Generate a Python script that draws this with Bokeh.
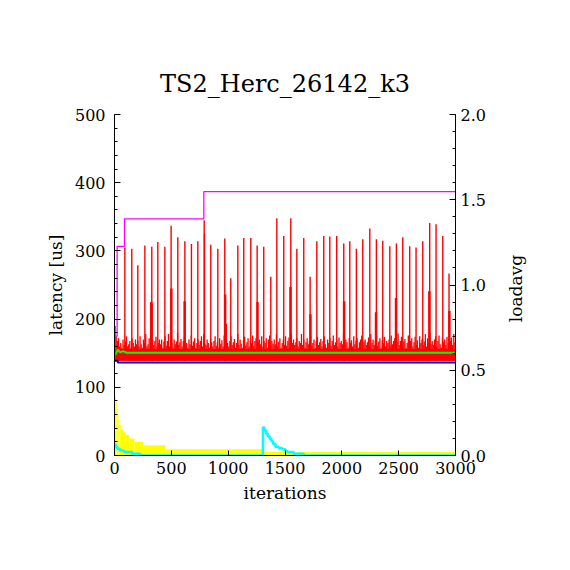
import math
from bokeh.plotting import figure
from bokeh.layouts import row
from bokeh.models import Range1d, LinearAxis, SingleIntervalTicker, PrintfTickFormatter
from bokeh.core.properties import value
from bokeh.embed import file_html
from bokeh.resources import INLINE

# ---------------- data ----------------
# dense latency band, one value per 10 iterations
band_step = 10
band_y = [
    190,175,168,172,160,165,158,170,162,167,175,160,163,168,158,172,165,160,170,163,
    168,160,175,163,158,170,165,178,160,163,172,158,166,170,162,168,174,160,165,170,
    163,170,158,167,175,161,168,178,160,172,165,158,170,163,167,180,162,166,171,160,
    168,173,160,165,158,170,163,176,161,167,172,158,165,170,162,168,175,160,178,164,
    162,170,165,158,172,166,160,168,175,161,166,158,172,164,169,160,176,163,170,165,
    160,168,175,162,166,171,158,165,178,162,170,164,158,169,174,161,166,172,160,168,
    165,176,161,168,172,158,166,170,163,175,160,168,165,172,158,170,176,162,168,164,
    170,163,178,160,167,172,158,165,170,162,175,161,168,173,160,178,165,170,162,166,
    172,160,168,165,178,162,170,158,166,172,163,168,176,161,165,170,158,168,174,162,
    166,171,160,168,175,163,158,170,165,172,161,168,176,162,166,170,160,173,165,168,
    163,178,162,170,166,158,172,165,169,160,175,163,168,172,158,166,170,176,162,167,
    170,162,166,173,160,178,165,170,162,168,175,161,167,172,158,169,165,174,160,168,
    165,170,161,176,163,168,172,158,166,179,162,168,174,160,167,171,158,165,176,163,
    168,172,160,166,174,162,169,158,175,165,170,162,167,178,160,172,165,180,163,168,
    162,170,175,160,168,176,163,158,172,166,170,162,174,165,160,168,173,162,178,166,
]
band_x = [i * band_step + band_step / 2 for i in range(len(band_y))]
band_min = 139
band_core = 156

# tall latency spikes
spike_x = [91, 152, 205, 267, 328, 381, 443, 498, 557, 619, 677, 733, 789, 792, 847, 909, 970,
           1023, 1085, 1137, 1199, 1255, 1313, 1375, 1428, 1489, 1551, 1604, 1665, 1721, 1780,
           1841, 1894, 1955, 2017, 2070, 2128, 2184, 2246, 2304, 2360, 2422, 2480, 2536, 2597,
           2653, 2712, 2773, 2829, 2888, 2943]
spike_y = [305, 303, 279, 308, 306, 313, 306, 337, 320, 314, 310, 314, 345, 325, 309, 303, 318,
           260, 308, 319, 319, 308, 306, 262, 348, 322, 348, 303, 319, 262, 314,
           322, 321, 322, 311, 314, 303, 317, 333, 317, 315, 307, 311, 320, 307,
           305, 314, 341, 339, 322, 267]
# medium latency peaks
mid_x = [324, 326, 500, 617, 973, 979, 1258, 1548, 1724, 2020, 2301, 2477, 2770, 2946]
mid_y = [225, 222, 245, 226, 236, 193, 225, 247, 207, 226, 210, 231, 241, 212]

# average and minimum latency
avg_x = [0, 12, 29, 50, 79, 108, 3000]
avg_y = [147, 149, 155, 151.5, 153, 150.5, 150.5]
min_x = [0, 29, 3000]
min_y = [139, 136.4, 136.4]

# loadavg (right axis)
load_x = [0, 3, 23, 88, 786, 3000]
load_y = [0.57, 0.70, 1.226, 1.388, 1.548, 1.548]

# yellow histogram-like fill
yel_x = [0, 12, 18, 26, 35, 44, 56, 76, 100, 129, 176, 252, 449, 1300, 3000]
yel_y = [86, 79, 69, 60, 52, 45, 39, 34, 30, 25, 20, 15, 9, 5]

# cyan step line
cy_x = [0, 12, 24, 47, 82, 156, 229, 1306, 1319, 1334, 1349, 1366, 1381, 1396, 1416, 1445,
        1475, 1504, 1525, 1577, 1665, 3000]
cy_y = [16, 13, 10, 7.4, 5, 2.5, 0, 41, 37, 32, 28, 24.6, 21, 17, 13, 11,
        9, 6.4, 5, 2.5, 0, 0]

x_ticks_interval = 500
title_text = "TS2_Herc_26142_k3"
right_label = "loadavg"

# ---------------- figure ----------------
FONT = "DejaVu Serif"
MAIN_W = 497
p = figure(width=MAIN_W, height=570, output_backend="svg", toolbar_location=None,
           x_range=Range1d(0, 3000), y_range=Range1d(0, 500),
           min_border_left=114, min_border_right=MAIN_W - 455, min_border_top=114, min_border_bottom=115,
           title=title_text)
p.extra_y_ranges = {"load": Range1d(0, 2)}
p.outline_line_color = None
p.grid.visible = False
p.background_fill_color = "white"

p.title.text_font = FONT
p.title.text_font_size = "24px"
p.title.text_font_style = "normal"
p.title.text_color = "black"
p.title.align = "center"
p.title.standoff = 34

# red latency
p.quad(left=band_x[0] - band_step / 2, right=band_x[-1] + band_step / 2, bottom=band_min, top=band_core,
       color="#ff0000", line_width=0)
p.vbar(x=band_x, top=band_y, bottom=band_min, width=band_step * 1.15, color="#ff0000", line_width=0)
p.segment(x0=mid_x, y0=[band_min] * len(mid_x), x1=mid_x, y1=mid_y, color="#ff0000", line_width=2.5)
p.segment(x0=spike_x, y0=[band_min] * len(spike_x), x1=spike_x, y1=spike_y, color="#ff0000", line_width=1.4)
p.line(avg_x, avg_y, color="#00ff00", line_width=2)
p.step(min_x, min_y, mode="after", color="#0000ff", line_width=2)
p.step(load_x, load_y, mode="after", color="#ff00ff", line_width=1.3, y_range_name="load")

p.quad(left=yel_x[:-1], right=yel_x[1:], bottom=0, top=yel_y, color="#ffff00", line_width=0)
p.step(cy_x, cy_y, mode="after", color="#00ffff", line_width=2.5)

# axes
xa = p.xaxis[0]
xa.ticker = SingleIntervalTicker(interval=x_ticks_interval, num_minor_ticks=0)
xa.axis_label = "iterations"
ya = p.yaxis[0]
ya.ticker = SingleIntervalTicker(interval=100, num_minor_ticks=5)
ya.axis_label = "latency [us]"
ra = LinearAxis(y_range_name="load", ticker=SingleIntervalTicker(interval=0.5, num_minor_ticks=5),
                formatter=PrintfTickFormatter(format="%.1f"))
p.add_layout(ra, "right")

for ax in (xa, ya, ra):
    ax.axis_line_color = "black"
    ax.axis_line_width = 1
    ax.major_tick_line_color = "black"
    ax.minor_tick_line_color = "black"
    ax.major_tick_in = 6
    ax.major_tick_out = 0
    ax.minor_tick_in = 3
    ax.minor_tick_out = 0
    ax.major_label_text_font = FONT
    ax.major_label_text_font_size = "16px"
    ax.major_label_text_color = "black"
    ax.axis_label_text_font = FONT
    ax.axis_label_text_font_size = "17px"
    ax.axis_label_text_font_style = "normal"
    ax.axis_label_text_color = "black"
xa.major_tick_in = 5
xa.major_label_standoff = 6
xa.axis_label_standoff = 6
ya.major_label_standoff = 9
ya.axis_label_standoff = 6
ra.major_label_standoff = 5

# narrow side figure that carries the right-axis title, reading bottom-to-top
SIDE_W = 570 - MAIN_W
side = figure(width=SIDE_W, height=570, output_backend="svg", toolbar_location=None,
              x_range=Range1d(0, SIDE_W), y_range=Range1d(570, 0),
              min_border_left=0, min_border_right=0, min_border_top=0, min_border_bottom=0)
side.axis.visible = False
side.grid.visible = False
side.outline_line_color = None
side.text(x=[515 - MAIN_W], y=[291], text=[right_label], angle=math.pi / 2,
          text_align="center", text_baseline="middle", text_font=value(FONT),
          text_font_size="17px", text_color="black")

layout = row(p, side)
open("out.html", "w").write(file_html(layout, INLINE))
